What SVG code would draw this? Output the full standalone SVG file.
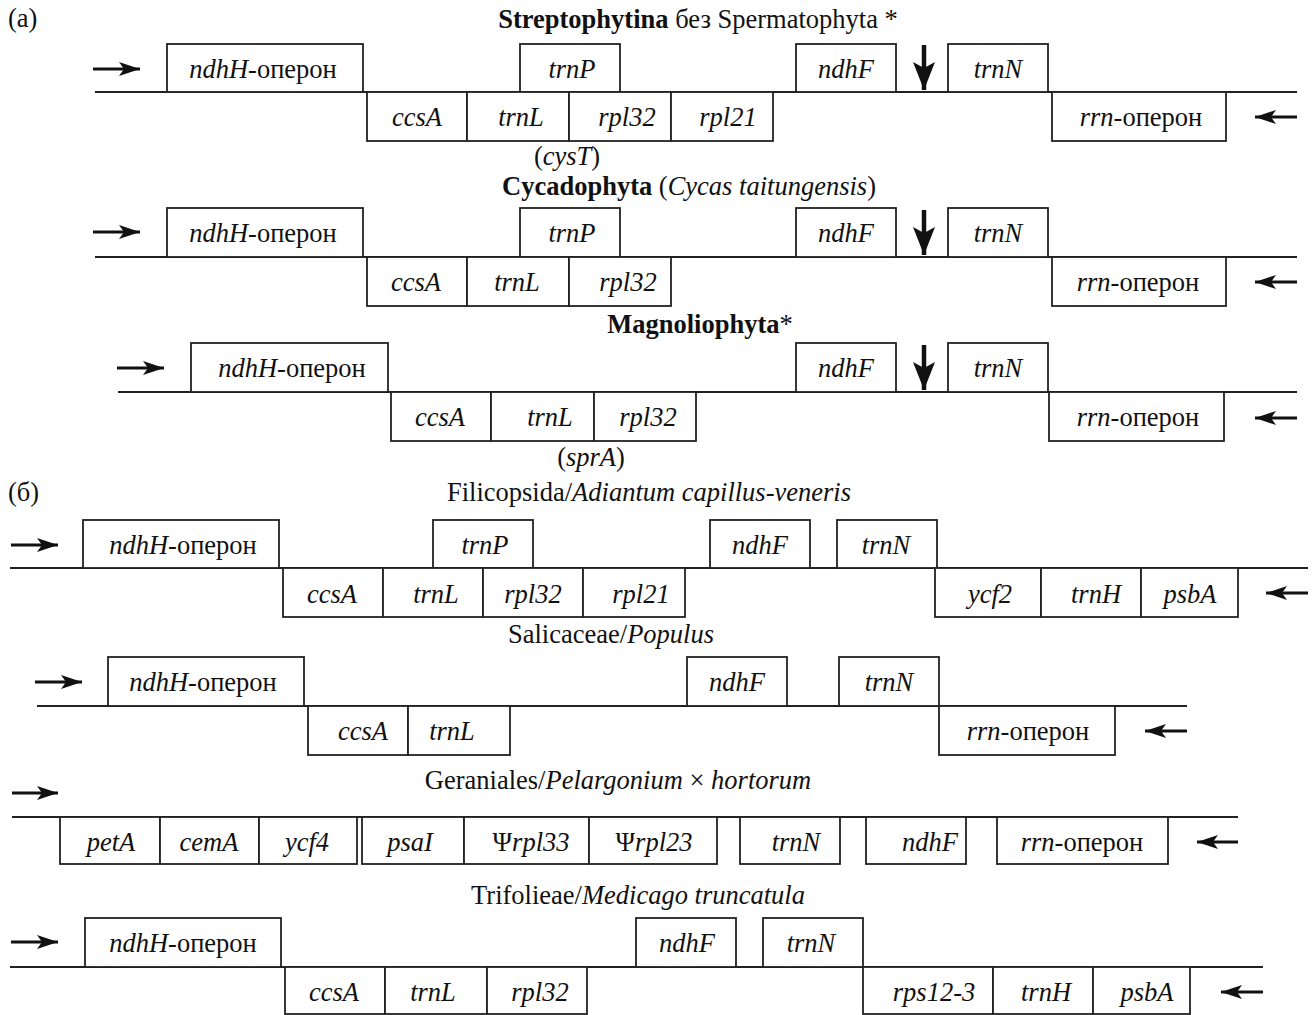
<svg xmlns="http://www.w3.org/2000/svg" width="1314" height="1015" viewBox="0 0 1314 1015">
<style>
text{font-family:"Liberation Serif","Times New Roman",serif;font-size:26.5px;fill:#111}
.t{text-anchor:middle}
.i{font-style:italic}
.b{font-weight:bold}
rect{fill:#fff;stroke:#222;stroke-width:1.8}
.ln{stroke:#222;stroke-width:1.8;fill:none}
.ar{stroke:#111;stroke-width:3.2;fill:none;marker-end:url(#ah)}
.dn{stroke:#111;stroke-width:4.5;fill:none;marker-end:url(#dh)}
</style>
<defs>
<marker id="ah" markerUnits="userSpaceOnUse" markerWidth="22" markerHeight="15" refX="21" refY="7" orient="auto"><path d="M0,0 L21,7 L0,14 L5,7 Z" fill="#111"/></marker>
<marker id="dh" markerUnits="userSpaceOnUse" markerWidth="30" markerHeight="24" refX="28" refY="11" orient="auto"><path d="M0,0 L28,11 L0,22 L6,11 Z" fill="#111"/></marker>
</defs>
<rect x="0" y="0" width="1314" height="1015" style="fill:#fff;stroke:none"/>

<text x="8" y="27">(а)</text>
<text class="t" x="698" y="28"><tspan class="b">Streptophytina</tspan> без Spermatophyta *</text>
<text class="t" x="567" y="165">(<tspan class="i">cysT</tspan>)</text>
<text class="t" x="689" y="195"><tspan class="b">Cycadophyta</tspan> (<tspan class="i">Cycas taitungensis</tspan>)</text>
<text class="t" x="700" y="333"><tspan class="b">Magnoliophyta</tspan>*</text>
<text class="t" x="591" y="466">(<tspan class="i">sprA</tspan>)</text>
<text x="8" y="501">(б)</text>
<text class="t" x="649" y="501">Filicopsida/<tspan class="i">Adiantum capillus-veneris</tspan></text>
<text class="t" x="611" y="643">Salicaceae/<tspan class="i">Populus</tspan></text>
<text class="t" x="618" y="789">Geraniales/<tspan class="i">Pelargonium</tspan> × <tspan class="i">hortorum</tspan></text>
<text class="t" x="638" y="904">Trifolieae/<tspan class="i">Medicago truncatula</tspan></text>

<g id="connectors">
<path class="ln" d="M95,92 H1297"/>
<path class="ar" d="M93,69 H140"/>
<path class="ar" d="M1297,117 H1255"/>
<path class="dn" d="M924,45 V90"/>
<path class="ln" d="M95,257 H1297"/>
<path class="ar" d="M93,232 H140"/>
<path class="ar" d="M1297,282 H1255"/>
<path class="dn" d="M924,210 V255"/>
<path class="ln" d="M118,392 H1297"/>
<path class="ar" d="M117,368 H164"/>
<path class="ar" d="M1297,418 H1255"/>
<path class="dn" d="M924,345 V390"/>
<path class="ln" d="M10,568 H1308"/>
<path class="ar" d="M11,545 H58"/>
<path class="ar" d="M1308,593 H1266"/>
<path class="ln" d="M37,706 H1187"/>
<path class="ar" d="M35,682 H82"/>
<path class="ar" d="M1187,731 H1145"/>
<path class="ln" d="M12,817 H1238"/>
<path class="ar" d="M12,793 H58"/>
<path class="ar" d="M1238,842 H1197"/>
<path class="ln" d="M10,967 H1263"/>
<path class="ar" d="M11,942 H58"/>
<path class="ar" d="M1263,992 H1221"/>
</g>

<g id="row-a1">
<g id="a1-ndhH"><rect x="167" y="44" width="196" height="48"/><text class="t" x="263" y="78"><tspan class="i">ndhH</tspan>-оперон</text></g>
<g id="a1-trnP"><rect x="520" y="44" width="100" height="48"/><text class="t i" x="572" y="78">trnP</text></g>
<g id="a1-ndhF"><rect x="796" y="44" width="100" height="48"/><text class="t i" x="846" y="78">ndhF</text></g>
<g id="a1-trnN"><rect x="948" y="44" width="100" height="48"/><text class="t i" x="998" y="78">trnN</text></g>
<g id="a1-ccsA"><rect x="367" y="92" width="100" height="49"/><text class="t i" x="417" y="126">ccsA</text></g>
<g id="a1-trnL"><rect x="467" y="92" width="102" height="49"/><text class="t i" x="521" y="126">trnL</text></g>
<g id="a1-rpl32"><rect x="569" y="92" width="102" height="49"/><text class="t i" x="627" y="126">rpl32</text></g>
<g id="a1-rpl21"><rect x="671" y="92" width="102" height="49"/><text class="t i" x="728" y="126">rpl21</text></g>
<g id="a1-rrn"><rect x="1052" y="92" width="174" height="49"/><text class="t" x="1141" y="126"><tspan class="i">rrn</tspan>-оперон</text></g>
</g>

<g id="row-a2">
<g id="a2-ndhH"><rect x="167" y="208" width="196" height="49"/><text class="t" x="263" y="242"><tspan class="i">ndhH</tspan>-оперон</text></g>
<g id="a2-trnP"><rect x="520" y="208" width="100" height="49"/><text class="t i" x="572" y="242">trnP</text></g>
<g id="a2-ndhF"><rect x="796" y="208" width="100" height="49"/><text class="t i" x="846" y="242">ndhF</text></g>
<g id="a2-trnN"><rect x="948" y="208" width="100" height="49"/><text class="t i" x="998" y="242">trnN</text></g>
<g id="a2-ccsA"><rect x="367" y="257" width="100" height="49"/><text class="t i" x="416" y="291">ccsA</text></g>
<g id="a2-trnL"><rect x="467" y="257" width="102" height="49"/><text class="t i" x="517" y="291">trnL</text></g>
<g id="a2-rpl32"><rect x="569" y="257" width="102" height="49"/><text class="t i" x="628" y="291">rpl32</text></g>
<g id="a2-rrn"><rect x="1052" y="257" width="174" height="49"/><text class="t" x="1138" y="291"><tspan class="i">rrn</tspan>-оперон</text></g>
</g>

<g id="row-a3">
<g id="a3-ndhH"><rect x="191" y="343" width="197" height="49"/><text class="t" x="292" y="377"><tspan class="i">ndhH</tspan>-оперон</text></g>
<g id="a3-ndhF"><rect x="796" y="343" width="100" height="49"/><text class="t i" x="846" y="377">ndhF</text></g>
<g id="a3-trnN"><rect x="948" y="343" width="100" height="49"/><text class="t i" x="998" y="377">trnN</text></g>
<g id="a3-ccsA"><rect x="391" y="392" width="100" height="49"/><text class="t i" x="440" y="426">ccsA</text></g>
<g id="a3-trnL"><rect x="491" y="392" width="103" height="49"/><text class="t i" x="550" y="426">trnL</text></g>
<g id="a3-rpl32"><rect x="594" y="392" width="102" height="49"/><text class="t i" x="648" y="426">rpl32</text></g>
<g id="a3-rrn"><rect x="1049" y="392" width="175" height="49"/><text class="t" x="1138" y="426"><tspan class="i">rrn</tspan>-оперон</text></g>
</g>

<g id="row-b1">
<g id="b1-ndhH"><rect x="83" y="520" width="196" height="48"/><text class="t" x="183" y="554"><tspan class="i">ndhH</tspan>-оперон</text></g>
<g id="b1-trnP"><rect x="433" y="520" width="100" height="48"/><text class="t i" x="485" y="554">trnP</text></g>
<g id="b1-ndhF"><rect x="710" y="520" width="100" height="48"/><text class="t i" x="760" y="554">ndhF</text></g>
<g id="b1-trnN"><rect x="837" y="520" width="100" height="48"/><text class="t i" x="886" y="554">trnN</text></g>
<g id="b1-ccsA"><rect x="283" y="568" width="100" height="49"/><text class="t i" x="332" y="603">ccsA</text></g>
<g id="b1-trnL"><rect x="383" y="568" width="100" height="49"/><text class="t i" x="436" y="603">trnL</text></g>
<g id="b1-rpl32"><rect x="483" y="568" width="100" height="49"/><text class="t i" x="533" y="603">rpl32</text></g>
<g id="b1-rpl21"><rect x="583" y="568" width="102" height="49"/><text class="t i" x="641" y="603">rpl21</text></g>
<g id="b1-ycf2"><rect x="935" y="568" width="106" height="49"/><text class="t i" x="990" y="603">ycf2</text></g>
<g id="b1-trnH"><rect x="1041" y="568" width="100" height="49"/><text class="t i" x="1096" y="603">trnH</text></g>
<g id="b1-psbA"><rect x="1141" y="568" width="97" height="49"/><text class="t i" x="1190" y="603">psbA</text></g>
</g>

<g id="row-b2">
<g id="b2-ndhH"><rect x="108" y="657" width="196" height="49"/><text class="t" x="203" y="691"><tspan class="i">ndhH</tspan>-оперон</text></g>
<g id="b2-ndhF"><rect x="687" y="657" width="100" height="49"/><text class="t i" x="737" y="691">ndhF</text></g>
<g id="b2-trnN"><rect x="839" y="657" width="100" height="49"/><text class="t i" x="889" y="691">trnN</text></g>
<g id="b2-ccsA"><rect x="308" y="706" width="100" height="49"/><text class="t i" x="363" y="740">ccsA</text></g>
<g id="b2-trnL"><rect x="408" y="706" width="102" height="49"/><text class="t i" x="452" y="740">trnL</text></g>
<g id="b2-rrn"><rect x="939" y="706" width="176" height="49"/><text class="t" x="1028" y="740"><tspan class="i">rrn</tspan>-оперон</text></g>
</g>

<g id="row-b3">
<g id="b3-petA"><rect x="60" y="817" width="100" height="47"/><text class="t i" x="111" y="851">petA</text></g>
<g id="b3-cemA"><rect x="160" y="817" width="99" height="47"/><text class="t i" x="209" y="851">cemA</text></g>
<g id="b3-ycf4"><rect x="259" y="817" width="98" height="47"/><text class="t i" x="307" y="851">ycf4</text></g>
<g id="b3-psaI"><rect x="362" y="817" width="102" height="47"/><text class="t i" x="410" y="851">psaI</text></g>
<g id="b3-rpl33"><rect x="464" y="817" width="125" height="47"/><text class="t" x="531" y="851">Ψ<tspan class="i">rpl33</tspan></text></g>
<g id="b3-rpl23"><rect x="589" y="817" width="128" height="47"/><text class="t" x="654" y="851">Ψ<tspan class="i">rpl23</tspan></text></g>
<g id="b3-trnN"><rect x="740" y="817" width="100" height="47"/><text class="t i" x="796" y="851">trnN</text></g>
<g id="b3-ndhF"><rect x="866" y="817" width="100" height="47"/><text class="t i" x="930" y="851">ndhF</text></g>
<g id="b3-rrn"><rect x="997" y="817" width="171" height="47"/><text class="t" x="1082" y="851"><tspan class="i">rrn</tspan>-оперон</text></g>
</g>

<g id="row-b4">
<g id="b4-ndhH"><rect x="85" y="918" width="196" height="49"/><text class="t" x="183" y="952"><tspan class="i">ndhH</tspan>-оперон</text></g>
<g id="b4-ndhF"><rect x="636" y="918" width="100" height="49"/><text class="t i" x="687" y="952">ndhF</text></g>
<g id="b4-trnN"><rect x="763" y="918" width="100" height="49"/><text class="t i" x="811" y="952">trnN</text></g>
<g id="b4-ccsA"><rect x="285" y="967" width="100" height="47"/><text class="t i" x="334" y="1001">ccsA</text></g>
<g id="b4-trnL"><rect x="385" y="967" width="102" height="47"/><text class="t i" x="433" y="1001">trnL</text></g>
<g id="b4-rpl32"><rect x="487" y="967" width="100" height="47"/><text class="t i" x="540" y="1001">rpl32</text></g>
<g id="b4-rps12"><rect x="863" y="967" width="130" height="47"/><text class="t i" x="934" y="1001">rps12-3</text></g>
<g id="b4-trnH"><rect x="993" y="967" width="100" height="47"/><text class="t i" x="1046" y="1001">trnH</text></g>
<g id="b4-psbA"><rect x="1093" y="967" width="97" height="47"/><text class="t i" x="1147" y="1001">psbA</text></g>
</g>
</svg>
